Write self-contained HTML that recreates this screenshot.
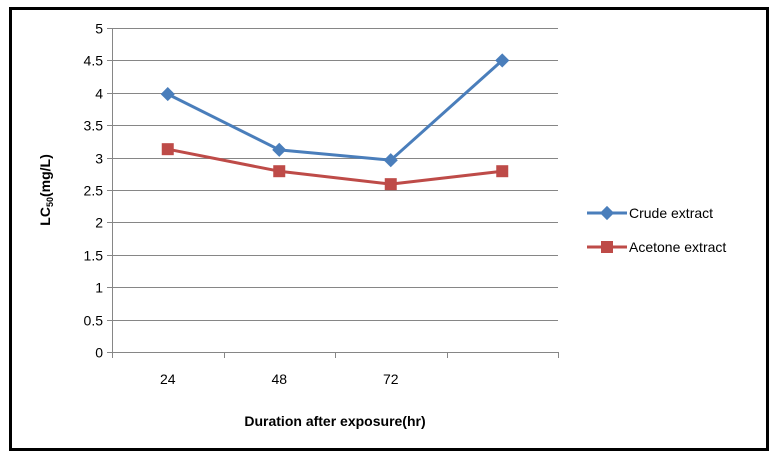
<!DOCTYPE html>
<html><head><meta charset="utf-8"><style>
html,body{margin:0;padding:0;background:#fff;}
svg{display:block;font-family:"Liberation Sans",sans-serif;}
</style></head><body>
<svg id="c" width="778" height="460" viewBox="0 0 778 460">
<rect x="10.5" y="8.5" width="757" height="441" fill="#fff" stroke="#000" stroke-width="3"/>
<g id="grid"></g><g id="axes"></g><g id="series"></g>
<text x="0" y="0" transform="translate(50,190) rotate(-90)" text-anchor="middle" font-size="14" font-weight="bold">LC<tspan font-size="9" dy="3">50</tspan><tspan dy="-3">(mg/L)</tspan></text>
<text x="335" y="426" text-anchor="middle" font-size="14" font-weight="bold">Duration after exposure(hr)</text>
<g>
<g>
<line x1="587" y1="213" x2="627" y2="213" stroke="#4a7ebb" stroke-width="3"/>
<rect x="602" y="208" width="10" height="10" fill="#4a7ebb" transform="rotate(45 607 213)"/>
<text x="629" y="218" font-size="14">Crude extract</text></g>
<g>
<line x1="587" y1="247" x2="627" y2="247" stroke="#be4b48" stroke-width="3"/>
<rect x="601" y="241" width="12" height="12" fill="#be4b48"/>
<text x="629" y="252" font-size="14">Acetone extract</text></g>
</g>
</svg>
<script>
const categories=["24","48","72",""];
const crude=[3.98,3.12,2.96,4.5];
const acetone=[3.13,2.79,2.59,2.79];
const yTicks=[0,0.5,1,1.5,2,2.5,3,3.5,4,4.5,5];
const NS="http://www.w3.org/2000/svg";
const X0=112,X1=558,Y0=352,Y1=28;
const bw=(X1-X0)/categories.length;
const xs=i=>X0+bw*(i+0.5);
const ys=v=>Y0-(v/5)*(Y0-Y1);
function mk(t,a,p){const e=document.createElementNS(NS,t);for(const k in a)e.setAttribute(k,a[k]);p.appendChild(e);return e;}
const grid=document.getElementById('grid'),axes=document.getElementById('axes'),ser=document.getElementById('series');
yTicks.forEach(v=>{const y=Math.round(ys(v))+0.5;
if(v>0){const g=mk('line',{x1:X0,x2:X1,y1:y,y2:y,stroke:'#868686','stroke-width':1},grid);

}
mk('line',{x1:X0-5,x2:X0,y1:y,y2:y,stroke:'#868686'},axes);
const t=mk('text',{x:X0-9,y:y+5,'text-anchor':'end','font-size':14},axes);t.textContent=v;

});
const ya=mk('line',{x1:X0+0.5,x2:X0+0.5,y1:Y1,y2:Y0,stroke:'#868686'},axes);


const xa=mk('line',{x1:X0,x2:X1,y1:Y0+0.5,y2:Y0+0.5,stroke:'#868686'},axes);


for(let i=0;i<=categories.length;i++){const x=Math.round(X0+bw*i)+0.5;mk('line',{x1:x,x2:x,y1:Y0,y2:Y0+6,stroke:'#868686'},axes);}
categories.forEach((c,i)=>{const t=mk('text',{x:xs(i),y:384,'text-anchor':'middle','font-size':14},axes);t.textContent=c;

});
function draw(vals,color,shape,name){
const pl=mk('polyline',{points:vals.map((v,i)=>xs(i)+','+ys(v)).join(' '),fill:'none',stroke:color,'stroke-width':3,'stroke-linejoin':'round'},ser);


vals.forEach((v,i)=>{let m;
if(shape==='d'){m=mk('rect',{x:xs(i)-5,y:ys(v)-5,width:10,height:10,fill:color,transform:`rotate(45 ${xs(i)} ${ys(v)})`},ser);}
else{m=mk('rect',{x:xs(i)-6,y:ys(v)-6,width:12,height:12,fill:color},ser);}

});}
draw(crude,'#4a7ebb','d','crude');
draw(acetone,'#be4b48','s','acetone');
</script>
</body></html>
